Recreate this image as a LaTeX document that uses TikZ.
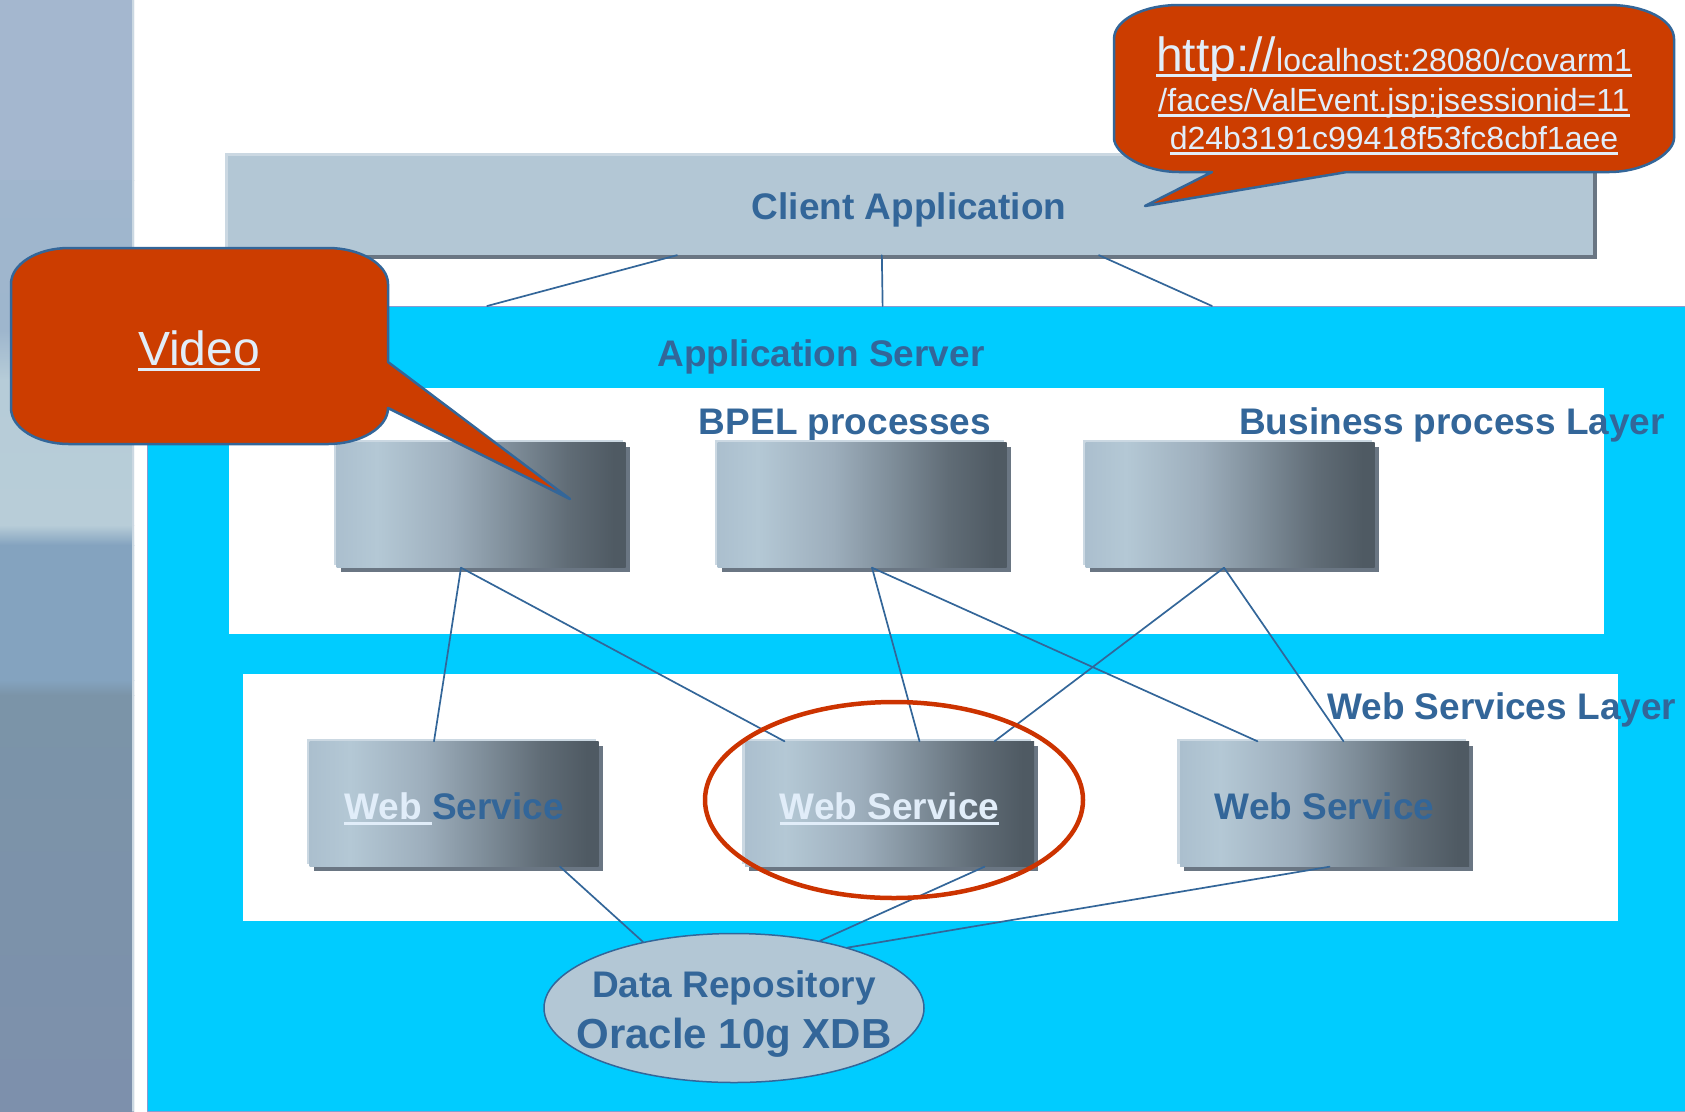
\documentclass[tikz,border=0pt]{standalone}
\usepackage{fontspec}
\setmainfont{Liberation Sans}
\usetikzlibrary{shapes.geometric,shadows,calc}
\newlength\ulw
\newcommand{\uln}[1]{\settowidth{\ulw}{#1}\rlap{\rule[-6pt]{\ulw}{2.6pt}}#1}
\definecolor{appcyan}{HTML}{00CCFF}
\definecolor{appedge}{HTML}{8A9AD0}
\definecolor{textblue}{HTML}{336699}
\definecolor{clientfill}{HTML}{B3C7D5}
\definecolor{boxa}{HTML}{ABBFCE}
\definecolor{boxb}{HTML}{B4C8D5}
\definecolor{boxc}{HTML}{9DAEBC}
\definecolor{boxd}{HTML}{7F8E9A}
\definecolor{boxe}{HTML}{606C76}
\definecolor{boxf}{HTML}{4F5A63}
\definecolor{boxshadow}{HTML}{6A7683}
\definecolor{boxedge}{HTML}{CBD8E2}
\definecolor{balloonred}{HTML}{CC3D00}
\definecolor{ringred}{HTML}{CC3300}
\definecolor{linklight}{HTML}{E1EDF9}
\pgfdeclarehorizontalshading{boxshade}{100bp}{color(0bp)=(boxa); color(25bp)=(boxa); color(32bp)=(boxb); color(45bp)=(boxc); color(55bp)=(boxd); color(65bp)=(boxe); color(73bp)=(boxf); color(100bp)=(boxf)}
\begin{document}
\begin{tikzpicture}[x=1pt, y=-1pt, line join=round, line cap=round,
	lbl/.style={inner sep=0, anchor=base, text=textblue, font=\fontsize{37}{44}\selectfont\bfseries},
	raised/.style={general shadow={fill=boxedge, shadow xshift=-3pt, shadow yshift=3pt},
		general shadow={fill=boxshadow, shadow xshift=4pt, shadow yshift=-4pt}},
	box/.style={raised, minimum width=289, minimum height=125, inner sep=0, shading=boxshade,
		text height=30pt, text depth=0pt, text=textblue, font=\fontsize{37}{44}\selectfont\bfseries},
	link/.style={draw=textblue, line width=1.7},
	balloon/.style={fill=balloonred, draw=textblue, line width=2.5},
	url/.style={inner sep=0, anchor=base, text=linklight, font=\fontsize{32}{38}\selectfont}]
	\def\by{505} % hang BPEL
	\def\wy{804} % hang Web Service
	\useasboundingbox (0,0) rectangle (1685,1111);
	\fill[white] (0,0) rectangle (1685,1111);
	% dai trai
	\foreach \ya/\yb/\ca/\cb in {0/180/A4B7CF/A4B7CF, 180/330/A0B6CD/9EB6CD, 330/380/9EB6CD/B6CCD8, 380/525/B6CCD8/B8CDD8,
		525/545/B8CDD8/84A3BF, 545/680/84A3BF/84A3BF, 680/695/84A3BF/7B94A8, 695/1111/7B94A8/7D90AC}{
		\definecolor{banda}{HTML}{\ca}
		\definecolor{bandb}{HTML}{\cb}
		\fill[top color=banda, bottom color=bandb] (0,\ya) rectangle (134,\yb);}
	\draw[boxedge, line width=1.5] (133,0)--(133,1111);
	\node[fill=appcyan, draw=appedge, line width=1, anchor=north west, minimum width=1538, minimum height=805, inner sep=0] (appserver) at (147,306) {};
	\fill[white] (229,388) rectangle (1604,634);
	\fill[white] (243,674) rectangle (1618,921);
	\node[raised, fill=clientfill, minimum width=1365, minimum height=99, inner sep=0] (client) at (910.5,205.5) {};
	\node[lbl] (clienttxt) at (909,219) {Client Application};
	\foreach \f/\g in {.329/.221, .479/.478, .638/.692}
		\draw[link] ($(client.south west)!\f!(client.south east)$)--($(appserver.north west)!\g!(appserver.north east)$);
	\node[lbl] (apptxt) at (821,366) {Application Server};
	\node[lbl] (bpeltxt) at (845,434) {BPEL processes};
	\node[lbl, anchor=base west] (bplayer) at (1239,434) {Business process Layer};
	\node[lbl, anchor=base west] (wslayer) at (1327,719) {Web Services Layer};
	\foreach \n/\x in {bp1/481, bp2/862, bp3/1230}
		\node[box] (\n) at (\x,\by) {};
	\node[box] (ws1) at (454,\wy) {\textcolor{linklight}{\uln{Web\ }}Service};
	\node[box, text=linklight] (ws2) at (889.5,\wy) {\uln{Web Service}};
	\node[box] (ws3) at (1324.5,\wy) {Web Service};
	\foreach \a/\sa/\b/\sb in {bp1/-20/ws1/-20, bp1/-20/ws2/-105, bp2/10/ws2/30, bp2/10/ws3/-67, bp3/-6/ws2/105, bp3/-6/ws3/19}
		\draw[link] ([xshift=\sa pt]\a.south)--([xshift=\sb pt]\b.north);
	\node[ellipse, fill=clientfill, draw=textblue, line width=1.5, minimum width=380, minimum height=149, inner sep=0] (db) at (734,1008) {};
	\foreach \a/\sa/\ang in {ws1/106/144, ws2/95/38, ws3/5/28}
		\draw[link] ([xshift=\sa pt]\a.south)--(db.\ang);
	\node[lbl] (dbname) at (734,997) {Data Repository};
	\node[lbl, font=\fontsize{42}{48}\selectfont\bfseries] (dbkind) at (734,1048) {Oracle 10g XDB};
	\node[ellipse, draw=ringred, line width=4.5, minimum width=378, minimum height=196, inner sep=0] (ring) at (894,800) {};
	% bong noi Video
	\draw[balloon] (388,362)--(388,284) .. controls (388,264) and (360,248) .. (328,248)--(69,248) .. controls (37,248) and (11,264) .. (11,284)
		--(11,408) .. controls (11,428) and (37,444) .. (69,444)--(328,444) .. controls (360,444) and (388,428) .. (388,408)--(570,499)--cycle;
	\node[url, font=\fontsize{48}{54}\selectfont] (video) at (199,365) {\uln{Video}};
	% bong noi URL
	\draw[balloon] (1347,172)--(1609,172) .. controls (1645,172) and (1674,153) .. (1674,138)--(1674,39) .. controls (1674,20) and (1645,5) .. (1609,5)
		--(1179,5) .. controls (1143,5) and (1114,20) .. (1114,39)--(1114,138) .. controls (1114,153) and (1143,172) .. (1179,172)--(1212,172)--(1145,206)--cycle;
	\node[url] (urla) at (1394,71) {\uln{{\fontsize{48}{54}\selectfont http://}localhost:28080/covarm1}};
	\node[url] (urlb) at (1394,111) {\uln{/faces/ValEvent.jsp;jsessionid=11}};
	\node[url] (urlc) at (1394,149) {\uln{d24b3191c99418f53fc8cbf1aee}};
\end{tikzpicture}
\end{document}
